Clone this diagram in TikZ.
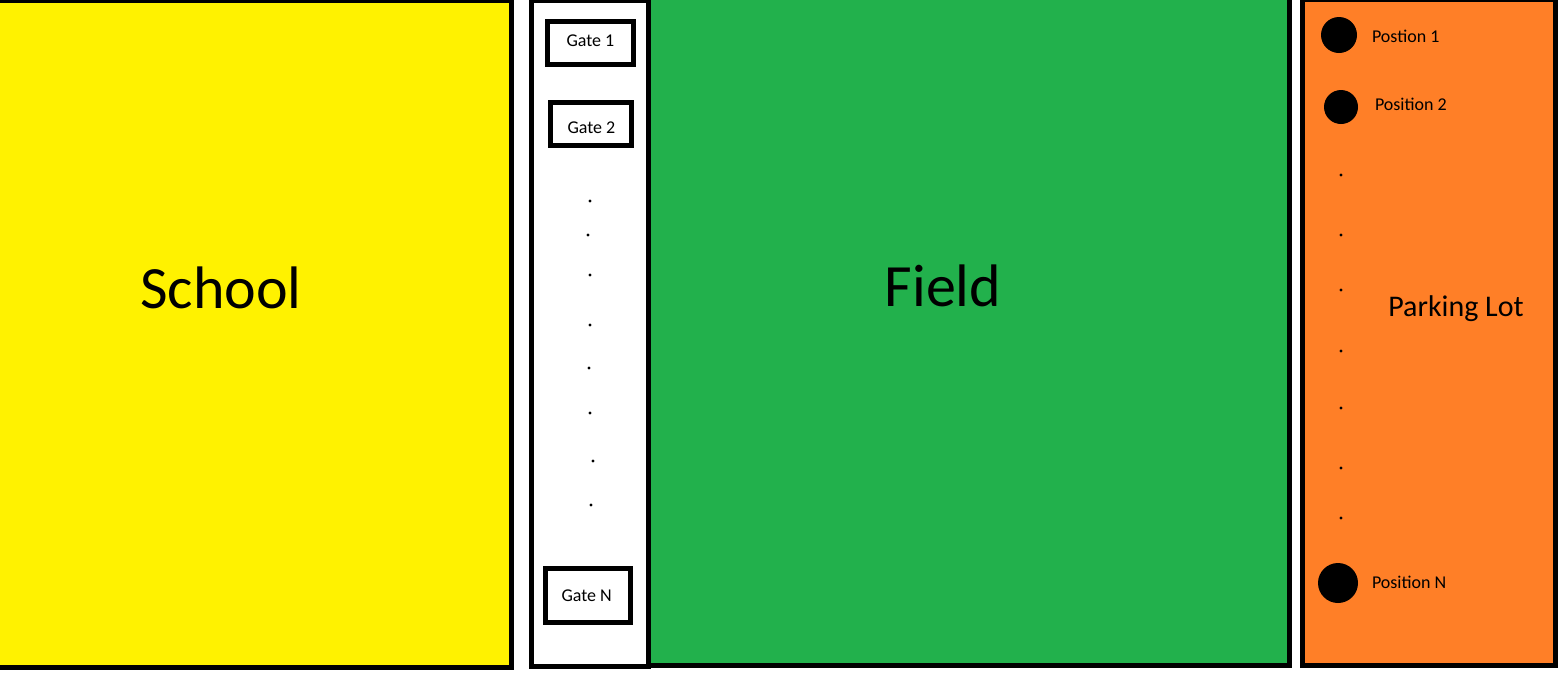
\documentclass[tikz,border=0pt]{standalone}
\usepackage{fontspec}
\setmainfont{Carlito}
\usepackage{xcolor}
\definecolor{schoolyellow}{HTML}{FFF200}
\definecolor{fieldgreen}{HTML}{22B14C}
\definecolor{lotorange}{HTML}{FF7F27}

\begin{document}
\begin{tikzpicture}[x=1pt,y=-1pt,line width=5pt,
  label/.style={anchor=base west,inner sep=0,font=\fontsize{18}{21}\selectfont},
  big/.style={anchor=base,inner sep=0,font=\fontsize{60}{64}\selectfont},
  dot/.style={fill,line width=0pt}]
\useasboundingbox (0,0) rectangle (1562,673);
\fill[white] (0,0) rectangle (1562,673);
% areas
\filldraw[fill=schoolyellow] (-10,0) rectangle (511.5,667.5);
\filldraw[fill=white] (531.5,0) rectangle (648,666.5);
\filldraw[fill=fieldgreen] (648.5,-5) rectangle (1289.5,665.5);
\filldraw[fill=lotorange] (1302.5,-1) rectangle (1555.5,665.5);
\node[big] (school) at (221,308) {School};
\node[big] (field) at (943,306) {Field};
\node[anchor=base,inner sep=0,font=\fontsize{30}{34}\selectfont] (lot) at (1456,316) {Parking Lot};
% gates
\draw (547.5,21.5) rectangle (633.5,64.5);
\node[label] (gate1) at (564,46) {Gate 1};
\draw (550.5,102.5) rectangle (631.5,145.5);
\node[label] (gate2) at (565,133) {Gate 2};
\draw (545.5,568.5) rectangle (630.5,622.5);
\node[label] (gateN) at (559,601) {Gate N};
\foreach \x/\y in {590/201,588/235,590/275,590/325,589/368,590/413,593/461,591/505}
  \fill (\x,\y) circle (1.6);
% positions
\fill (1339,35) circle (18);
\node[label] (pos1) at (1369.5,42) {Postion 1};
\fill (1341,107) circle (17);
\node[label] (pos2) at (1372.5,110) {Position 2};
\fill (1338,583) circle (20);
\node[label] (posN) at (1369.5,588) {Position N};
\foreach \y in {175,235,290,351,408,468,518}
  \fill (1341,\y) circle (1.6);
\end{tikzpicture}
\end{document}
